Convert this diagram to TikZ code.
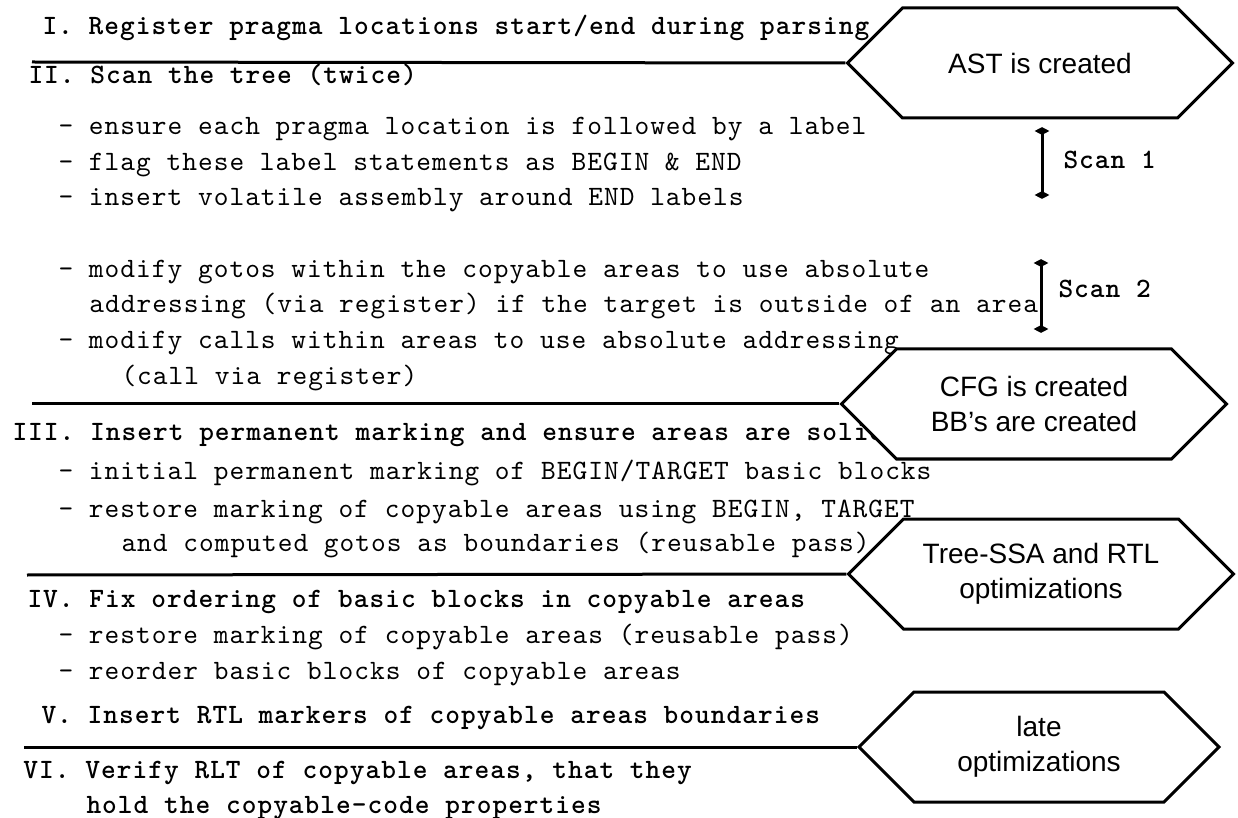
\documentclass[tikz,border=0pt]{standalone}
\usepackage{fontspec}
\newfontfamily\hexfont{Liberation Sans}
\newfontfamily\mono{lmmono10-regular.otf}[LetterSpace=3.7,
    BoldFont=lmmonolt10-bold.otf]
\usetikzlibrary{arrows.meta, positioning, shapes.geometric, shapes.symbols}

\begin{document}
\begin{tikzpicture}[
        x=0.5pt, y=-0.5pt,
        line width=1.5pt,
        txt/.style = {anchor=base west, inner sep=0pt,
                      font=\fontsize{14}{16}\selectfont\mono},
        head/.style = {txt, font=\fontsize{14}{16}\selectfont\mono\bfseries},
        hexa/.style = {draw, fill=white, signal, signal to=west and east,
                       signal pointer angle=90, inner sep=0pt,
                       minimum width=192.5pt, minimum height=55pt, align=center,
                       font=\fontsize{14}{17.5}\selectfont\hexfont},
        tick/.style = {diamond, fill, inner sep=0pt,
                       minimum width=8pt, minimum height=4.5pt},
        scan/.style = {inner sep=0pt,
                       font=\fontsize{14}{16}\selectfont\mono\bfseries},
        ]
        \useasboundingbox (0,0) rectangle (1238,818);

        % phase I
        \node [head] (p1) at (41,35) {I. Register pragma locations start/end during parsing};
        \coordinate (l1) at (32,62);

        % phase II
        \node [head] (p2) at (27,84) {II. Scan the tree (twice)};
        \node [txt] (p2a) at (57,135) {- ensure each pragma location is followed by a label};
        \node [txt] (p2b) at (57,171) {- flag these label statements as BEGIN \& END};
        \node [txt] (p2c) at (57,206) {- insert volatile assembly around END labels};
        \node [txt] (p2d) at (57,278) {- modify gotos within the copyable areas to use absolute};
        \node [txt] (p2e) at (88,313) {addressing (via register) if the target is outside of an area};
        \node [txt] (p2f) at (57,349) {- modify calls within areas to use absolute addressing};
        \node [txt] (p2g) at (120,385) {(call via register)};
        \coordinate (l2) at (32,404);

        % phase III
        \node [head] (p3) at (11,440) {III. Insert permanent marking and ensure areas are solid};
        \node [txt] (p3a) at (57,480) {- initial permanent marking of BEGIN/TARGET basic blocks};
        \node [txt] (p3b) at (57,517) {- restore marking of copyable areas using BEGIN, TARGET};
        \node [txt] (p3c) at (120,552) {and computed gotos as boundaries (reusable pass)};
        \coordinate (l3) at (27,575);

        % phase IV
        \node [head] (p4) at (26,607) {IV. Fix ordering of basic blocks in copyable areas};
        \node [txt] (p4a) at (57,643) {- restore marking of copyable areas (reusable pass)};
        \node [txt] (p4b) at (57,679) {- reorder basic blocks of copyable areas};

        % phase V and VI
        \node [head] (p5) at (40,723) {V. Insert RTL markers of copyable areas boundaries};
        \coordinate (l4) at (24,747);
        \node [head] (p6) at (22,778) {VI. Verify RLT of copyable areas, that they};
        \node [head] (p6a) at (85,813) {hold the copyable-code properties};

        % scans
        \node [tick] (s1a) at (1042,131) {};
        \node [tick] (s1b) at (1042,195) {};
        \draw (s1a.center) -- (s1b.center)
            node [scan, pos=0.45, anchor=west, right=10pt] {Scan 1};
        \node [tick] (s2a) at (1041,263) {};
        \node [tick] (s2b) at (1041,329) {};
        \draw (s2a.center) -- (s2b.center)
            node [scan, pos=0.4, anchor=west, right=8pt] {Scan 2};

        % compiler stages
        \node [hexa] (ast) at (1040,63) {AST is created};
        \node [hexa] (cfg) at (1034,404) {CFG is created\\BB’s are created};
        \node [hexa] (ssa) at (1041,574) {Tree-SSA and RTL\\optimizations};
        \node [hexa, minimum width=180pt] (late) at (1039,747) {late\\optimizations};

        \draw (l1) -- (ast.west);
        \draw (l2) -- (cfg.west);
        \draw (l3) -- (ssa.west);
        \draw (l4) -- (late.west);
\end{tikzpicture}
\end{document}
